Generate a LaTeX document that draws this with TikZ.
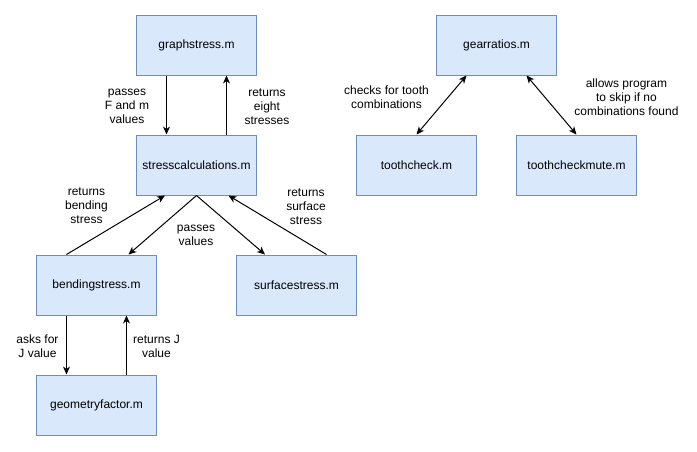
\documentclass[tikz,border=0pt]{standalone}
\usepackage{fontspec}
\setmainfont{Liberation Sans}
\usetikzlibrary{arrows.meta}
\definecolor{boxfill}{HTML}{DAE8FC}
\definecolor{boxline}{HTML}{6C8EBF}
\tikzset{
  filebox/.style={draw=boxline, fill=boxfill, line width=1pt, minimum width=120pt, minimum height=60pt, inner sep=0pt, font=\fontsize{12}{14}\selectfont},
  lbl/.style={align=center, inner sep=0pt, font=\fontsize{12}{14}\selectfont},
  conn/.style={line width=1pt, -{Stealth[length=8pt,width=7pt,inset=2.5pt]}},
  dconn/.style={line width=1pt, {Stealth[length=8pt,width=7pt,inset=2.5pt]}-{Stealth[length=8pt,width=7pt,inset=2.5pt]}}
}
\begin{document}
\begin{tikzpicture}[x=1pt,y=-1pt]
\useasboundingbox (0,0) rectangle (697,451);
\node[filebox] (gs) at (196.5,45) {graphstress.m};
\node[filebox] (sc) at (196.5,165) {stresscalculations.m};
\node[filebox] (bs) at (96.5,285) {bendingstress.m};
\node[filebox] (ss) at (296.5,285) {surfacestress.m};
\node[filebox] (gf) at (96.5,405) {geometryfactor.m};
\node[filebox] (gr) at (496.5,45) {gearratios.m};
\node[filebox] (tc) at (416.5,165) {toothcheck.m};
\node[filebox] (tm) at (576.5,165) {toothcheckmute.m};

\draw[conn] ([xshift=-30pt]gs.south) -- ([xshift=-30pt]sc.north);
\draw[conn] ([xshift=30pt]sc.north) -- ([xshift=30pt]gs.south);
\draw[conn] ([xshift=-30pt]bs.north) -- ([xshift=-31.5pt]sc.south);
\draw[conn] (sc.south) -- ([xshift=32pt]bs.north);
\draw[conn] (sc.south) -- ([xshift=-31.5pt]ss.north);
\draw[conn] ([xshift=30pt]ss.north) -- ([xshift=32pt]sc.south);
\draw[conn] ([xshift=-30pt]bs.south) -- ([xshift=-30pt]gf.north);
\draw[conn] ([xshift=30pt]gf.north) -- ([xshift=30pt]bs.south);
\draw[dconn] ([xshift=-30pt]gr.south) -- (tc.north);
\draw[dconn] ([xshift=30pt]gr.south) -- (tm.north);

\node[lbl] (l1) at (127,106.5) {passes\\F and m\\values};
\node[lbl] (l2) at (267,106.5) {returns\\eight\\stresses};
\node[lbl] (l3) at (86.5,206) {returns\\bending\\stress};
\node[lbl] (l4) at (196,235.5) {passes\\values};
\node[lbl] (l5) at (306,207) {returns\\surface\\stress};
\node[lbl] (l6) at (37.5,346.5) {asks for\\J value};
\node[lbl] (l7) at (156.5,346.5) {returns J\\value};
\node[lbl] (l8) at (386.5,97) {checks for tooth\\combinations};
\node[lbl] (l9) at (626.5,97) {allows program\\to skip if no\\combinations found};
\end{tikzpicture}
\end{document}
